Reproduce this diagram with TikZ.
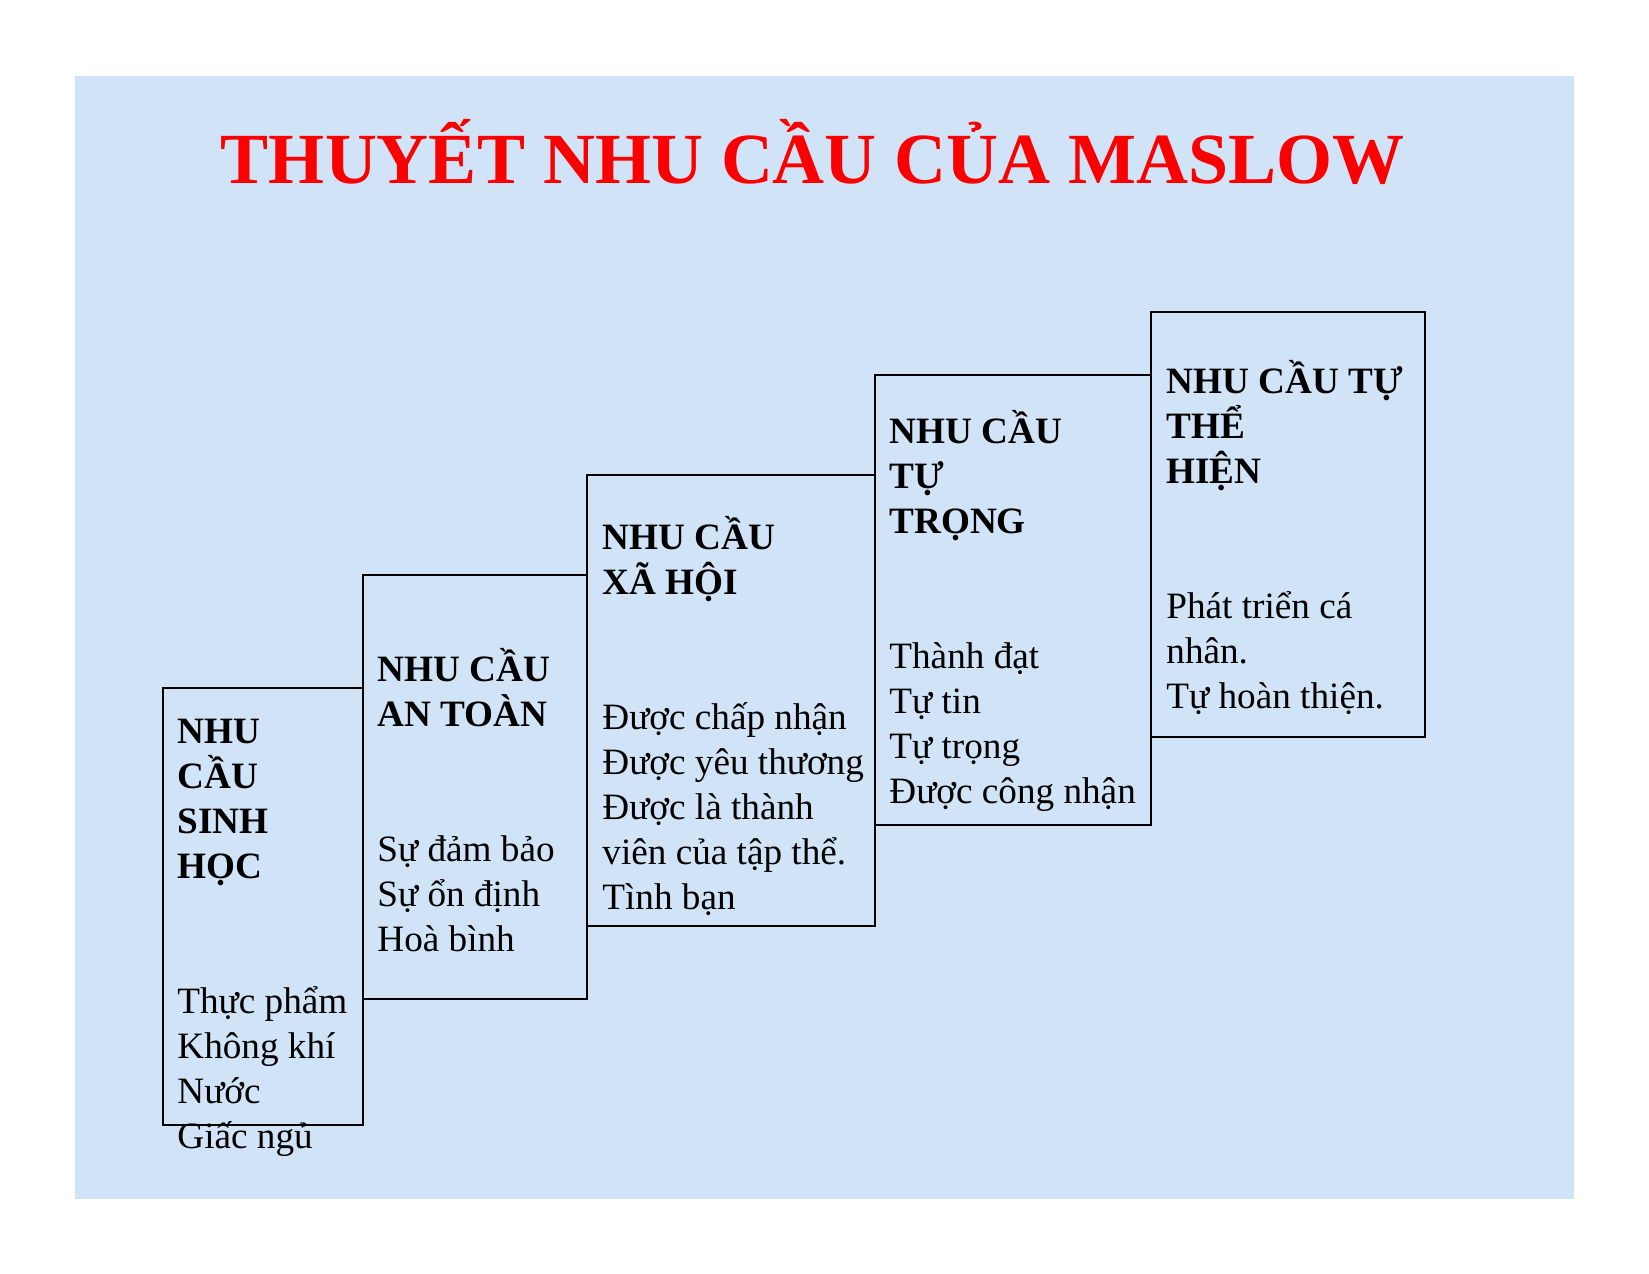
\documentclass[tikz,border=0pt]{standalone}
\usepackage{fontspec}
\setmainfont{Liberation Serif}
\usepackage{xcolor}

\definecolor{nenxanh}{RGB}{209,227,246}
\definecolor{tieude}{RGB}{250,0,0}

\tikzset{
  tang/.style={draw=black, line width=0.75pt},
  chu/.style={anchor=base west, align=left, inner sep=0pt,
    font=\fontsize{18.6pt}{22.5pt}\selectfont},
}

\begin{document}
\begin{tikzpicture}[x=0.5pt, y=-0.5pt]
    % Khung trang
    \useasboundingbox[fill=white] (0,0) rectangle (1649,1274);
    \fill[nenxanh] (75,76) rectangle (1574,1199);

    % Tieu de
    \node[anchor=base, inner sep=0pt, text=tieude,
      font=\fontsize{36pt}{40pt}\selectfont\bfseries] (tieude) at (813,183)
      {THUYẾT NHU CẦU CỦA MASLOW};

    % Cac bac thang
    \draw[tang] (163,688) rectangle (363,1125);
    \draw[tang] (363,575) rectangle (587,999);
    \draw[tang] (587,475) rectangle (875,926);
    \draw[tang] (875,375) rectangle (1151,825);
    \draw[tang] (1151,312) rectangle (1425,737);

    % Noi dung (goc = dong cuoi)
    \node[chu] (sinhhoc) at (177,1148)
      {\textbf{NHU}\\ \textbf{CẦU}\\ \textbf{SINH}\\ \textbf{HỌC}\\[45pt]
       Thực phẩm\\ Không khí\\ Nước\\ Giấc ngủ};
    \node[chu] (antoan) at (377,951)
      {\textbf{NHU CẦU}\\ \textbf{AN TOÀN}\\[45pt]
       Sự đảm bảo\\ Sự ổn định\\ Hoà bình};
    \node[chu] (xahoi) at (602,909)
      {\textbf{NHU CẦU}\\ \textbf{XÃ HỘI}\\[45pt]
       Được chấp nhận\\ Được yêu thương\\ Được là thành\\ viên của tập thể.\\ Tình bạn};
    \node[chu] (tutrong) at (889,803)
      {\textbf{NHU CẦU}\\ \textbf{TỰ}\\ \textbf{TRỌNG}\\[45pt]
       Thành đạt\\ Tự tin\\ Tự trọng\\ Được công nhận};
    \node[chu] (thehien) at (1166,708)
      {\textbf{NHU CẦU TỰ}\\ \textbf{THỂ}\\ \textbf{HIỆN}\\[45pt]
       Phát triển cá\\ nhân.\\ Tự hoàn thiện.};

\end{tikzpicture}
\end{document}
